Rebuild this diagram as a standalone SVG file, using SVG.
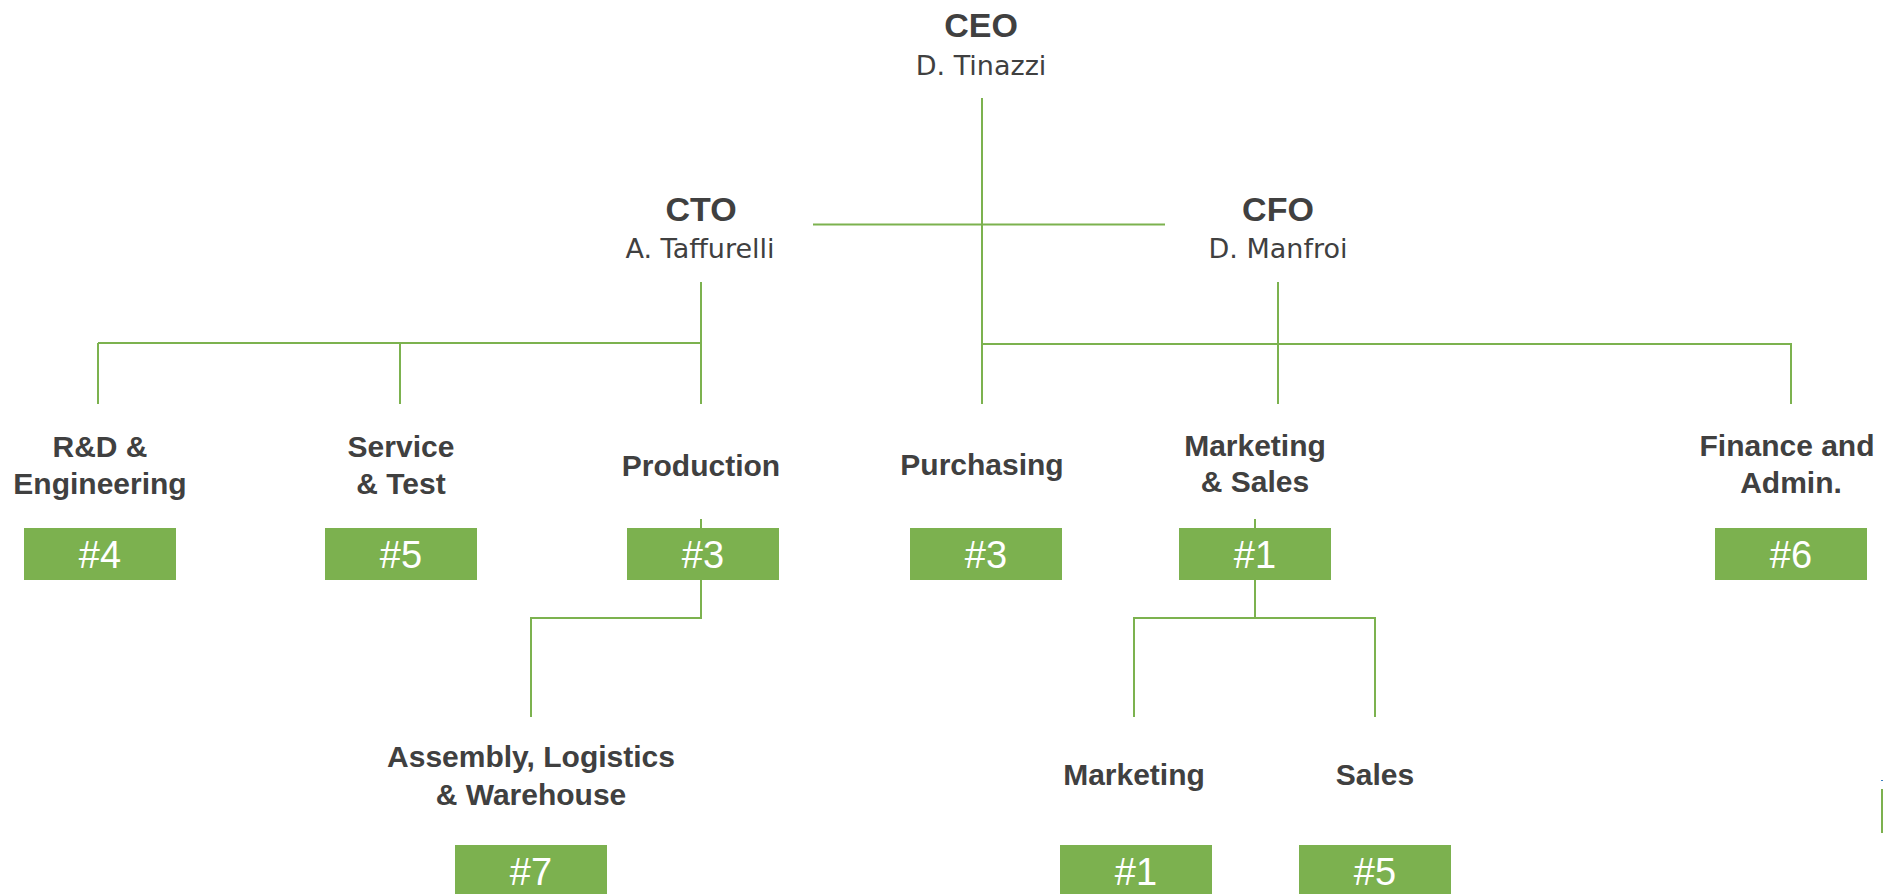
<svg xmlns="http://www.w3.org/2000/svg" width="1883" height="894" viewBox="0 0 1883 894">
<style>
.t{font-family:"Liberation Sans",Arial,sans-serif;font-weight:bold;font-size:34px;fill:#404040;text-anchor:middle}
.n{font-family:"DejaVu Sans","Liberation Sans",sans-serif;font-size:27px;fill:#404040;text-anchor:middle}
.d{font-family:"Liberation Sans",Arial,sans-serif;font-weight:bold;font-size:30px;fill:#404040;text-anchor:middle}
.b{fill:#7cb14f}
.h{font-family:"Liberation Sans",Arial,sans-serif;font-size:38px;fill:#ffffff;text-anchor:middle}
.c{stroke:#7cb24f;stroke-width:2;fill:none}
</style>
<rect width="1883" height="894" fill="#ffffff"/>
<g id="connectors" class="c">
<path d="M982 98V404"/>
<path d="M813 224.5H1165"/>
<path d="M701 282V404"/>
<path d="M98 343H701"/>
<path d="M98 343V404M400 343V404"/>
<path d="M1278 282V404"/>
<path d="M982 344H1791V404"/>
<path d="M701 519V528M701 580V618H531V717"/>
<path d="M1255 519V528M1255 580V618"/>
<path d="M1134 717V618H1375V717"/>
</g>
<g id="ceo"><text class="t" x="981" y="37">CEO</text><text class="n" x="981" y="75">D. Tinazzi</text></g>
<g id="cto"><text class="t" x="701" y="221">CTO</text><text class="n" x="700" y="258">A. Taffurelli</text></g>
<g id="cfo"><text class="t" x="1278" y="221">CFO</text><text class="n" x="1278" y="258">D. Manfroi</text></g>
<g id="rnd"><text class="d" x="100" y="457">R&amp;D &amp;</text><text class="d" x="100" y="494">Engineering</text><rect class="b" x="24" y="528" width="152" height="52"/><text class="h" x="100" y="568">#4</text></g>
<g id="service"><text class="d" x="401" y="457">Service</text><text class="d" x="401" y="494">&amp; Test</text><rect class="b" x="325" y="528" width="152" height="52"/><text class="h" x="401" y="568">#5</text></g>
<g id="production"><text class="d" x="701" y="476">Production</text><rect class="b" x="627" y="528" width="152" height="52"/><text class="h" x="703" y="568">#3</text></g>
<g id="purchasing"><text class="d" x="982" y="475">Purchasing</text><rect class="b" x="910" y="528" width="152" height="52"/><text class="h" x="986" y="568">#3</text></g>
<g id="mktsales"><text class="d" x="1255" y="456">Marketing</text><text class="d" x="1255" y="492">&amp; Sales</text><rect class="b" x="1179" y="528" width="152" height="52"/><text class="h" x="1255" y="568">#1</text></g>
<g id="finance"><text class="d" x="1787" y="456">Finance and</text><text class="d" x="1791" y="493">Admin.</text><rect class="b" x="1715" y="528" width="152" height="52"/><text class="h" x="1791" y="568">#6</text></g>
<g id="assembly"><text class="d" x="531" y="767">Assembly, Logistics</text><text class="d" x="531" y="805">&amp; Warehouse</text><rect class="b" x="455" y="845" width="152" height="52"/><text class="h" x="531" y="885">#7</text></g>
<g id="marketing"><text class="d" x="1134" y="785">Marketing</text><rect class="b" x="1060" y="845" width="152" height="52"/><text class="h" x="1136" y="885">#1</text></g>
<g id="sales"><text class="d" x="1375" y="785">Sales</text><rect class="b" x="1299" y="845" width="152" height="52"/><text class="h" x="1375" y="885">#5</text></g>
<rect x="1881" y="780" width="2" height="1" fill="#3a7fc0"/>
<rect x="1881" y="789" width="2" height="44" fill="#7cb14f"/>
</svg>
